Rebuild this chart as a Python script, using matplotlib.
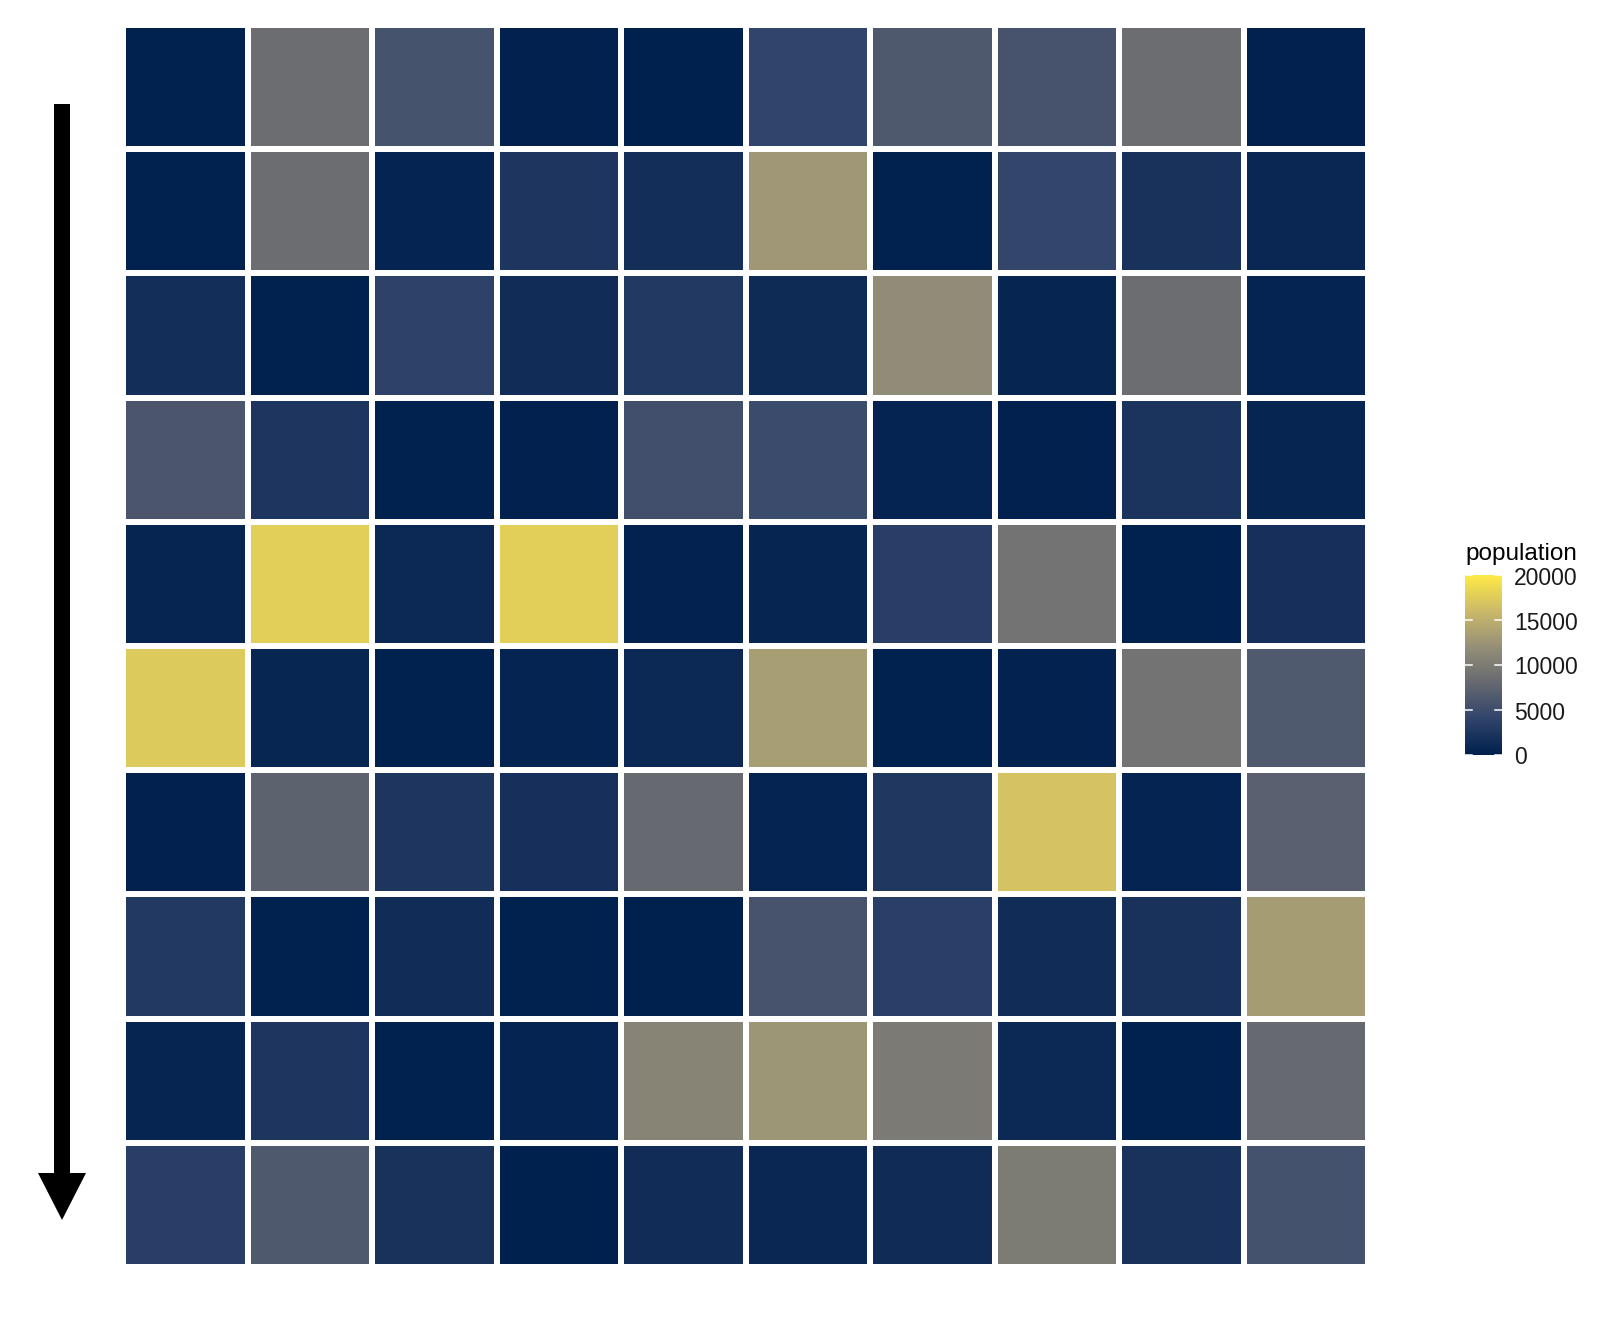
import numpy as np
import matplotlib
matplotlib.use('Agg')
import matplotlib.pyplot as plt
from matplotlib.colors import LinearSegmentedColormap
from matplotlib.patches import FancyArrow
import matplotlib.transforms as mtransforms
##################################################################
plt.rcParams['font.family'] = ['Liberation Sans', 'DejaVu Sans']
##################################################################
# grid cells, row by row from top to bottom
cols = list(range(1, 11))
rows = list(range(1, 11))
population = [
    [100, 8400, 5600, 200, 50, 4000, 6300, 5700, 8400, 200],
    [150, 8500, 500, 2400, 1600, 12700, 100, 4200, 2000, 800],
    [1600, 100, 3700, 1400, 2800, 1200, 11700, 600, 8500, 500],
    [6000, 2400, 100, 200, 5200, 4800, 500, 200, 2200, 600],
    [600, 17700, 1000, 17700, 300, 600, 3300, 9000, 150, 1800],
    [17300, 700, 100, 500, 1000, 13400, 100, 300, 9000, 6400],
    [200, 7300, 2400, 1800, 8000, 500, 2600, 16700, 500, 7100],
    [2800, 150, 1400, 100, 50, 5700, 3500, 1400, 2000, 13200],
    [600, 2400, 100, 500, 10800, 12600, 9800, 1000, 100, 8000],
    [3300, 6300, 2000, 50, 1400, 800, 1300, 9900, 2000, 5500],
]
legend_ticks = [0, 5000, 10000, 15000, 20000]
vmin, vmax = 0, 20000

# cividis, 6 stops as ggplot uses them
cmap = LinearSegmentedColormap.from_list(
    'cividis6', ['#00204D', '#31446B', '#666970', '#958F78', '#CBBA69', '#FFEA46'])

##################################################################
W, H = 1618, 1331
fig = plt.figure(figsize=(W/100., H/100.), dpi=100)

ax = fig.add_axes([123./W, 1 - 1267./H, 1245./W, 1242./H])
x_edges = np.arange(len(cols) + 1)
y_edges = np.arange(len(rows) + 1)
ax.pcolormesh(x_edges, y_edges, np.array(population), cmap=cmap, vmin=vmin, vmax=vmax,
              edgecolors='white', linewidth=4.2)
ax.set_xlim(0, len(cols))
ax.set_ylim(len(rows), 0)
ax.axis('off')

##################################################################
# arrow on the left, drawn in pixel coordinates
over = fig.add_axes([0, 0, 1, 1], zorder=-1)
over.set_xlim(0, W)
over.set_ylim(H, 0)
over.axis('off')
over.add_patch(FancyArrow(62, 104, 0, 1220 - 104, width=16, head_width=48, head_length=47,
                          length_includes_head=True, color='black', lw=0))

##################################################################
# colour bar legend
cax = fig.add_axes([1465./W, 1 - 755./H, 37./W, 180./H])
grad = np.linspace(vmin, vmax, 256).reshape(-1, 1)
cax.imshow(grad, aspect='auto', cmap=cmap, vmin=vmin, vmax=vmax, origin='lower',
           extent=[0, 1, vmin, vmax])
cax.set_xlim(0, 1)
cax.set_ylim(vmin, vmax)
shift = mtransforms.ScaledTranslation(0, -3/100., fig.dpi_scale_trans)
for t in legend_ticks:
    cax.plot([0, 0.2], [t, t], color='white', lw=1.1)
    cax.plot([0.8, 1], [t, t], color='white', lw=1.1)
    cax.text(1.33, t, str(t), ha='left', va='center', fontsize=16.5, color='#1a1a1a',
             transform=cax.transData + shift)
cax.axis('off')
fig.text(1465./W, 1 - 560./H, 'population', ha='left', va='baseline', fontsize=17.5, color='black')

##################################################################
fig.savefig('out.png', dpi=100)
